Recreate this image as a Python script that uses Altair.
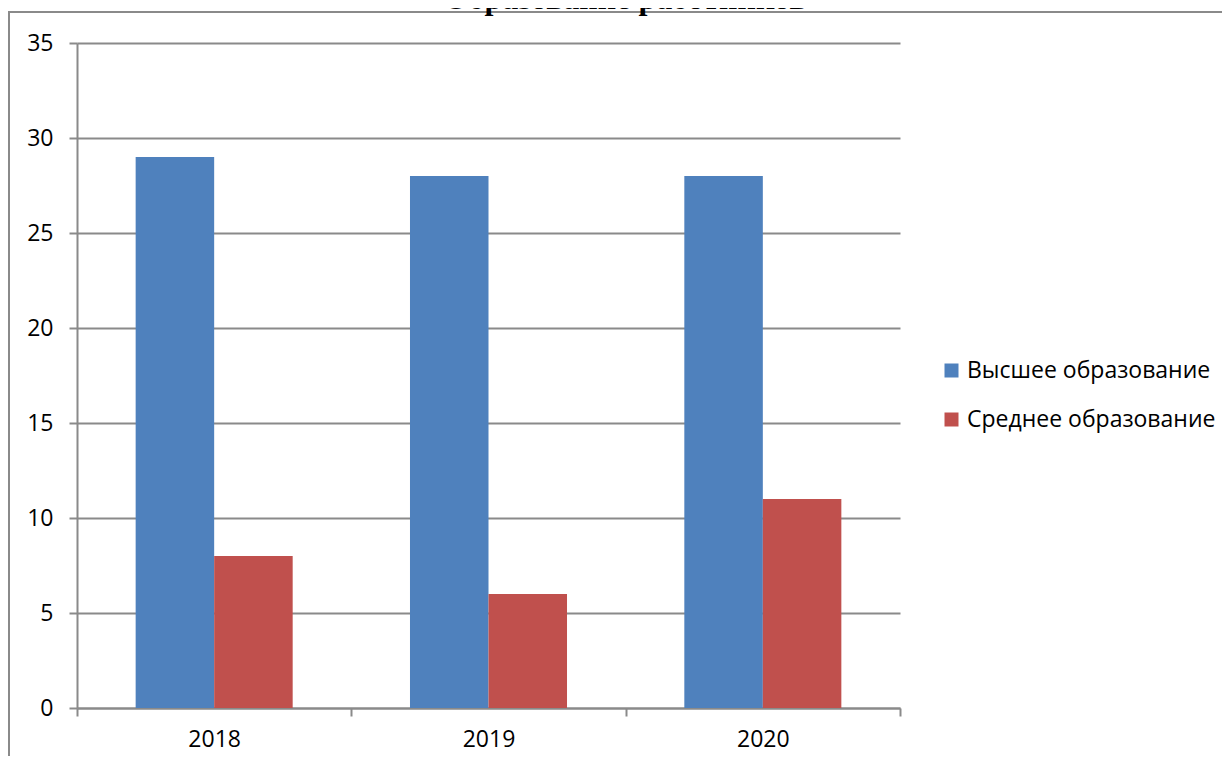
import altair as alt
import pandas as pd

years = ["2018", "2019", "2020"]
series = ["Высшее образование", "Среднее образование"]
higher = [29, 28, 28]
secondary = [8, 6, 11]
colors = ["#4F81BD", "#C0504D"]
title_text = "Образование работников"
y_ticks = [0, 5, 10, 15, 20, 25, 30, 35]

rows = []
for i, yr in enumerate(years):
    rows.append({"year": yr, "series": series[0], "value": higher[i]})
    rows.append({"year": yr, "series": series[1], "value": secondary[i]})
df = pd.DataFrame(rows)

W, H = 823, 665
GRAY = "#8a8a8a"
FONT = "Open Sans"
FS = 23

bars = alt.Chart(df).mark_bar().encode(
    x=alt.X(
        "year:N", sort=years,
        scale=alt.Scale(paddingInner=0, paddingOuter=0),
        axis=alt.Axis(title=None, labelAngle=0, tickBand="extent", grid=False,
                      domainColor=GRAY, domainWidth=2, tickColor=GRAY, tickWidth=2,
                      tickSize=8, labelFont=FONT, labelFontSize=FS, labelColor="#000",
                      labelPadding=12),
    ),
    xOffset=alt.XOffset("series:N", sort=series,
                        scale=alt.Scale(paddingInner=0, paddingOuter=0.747)),
    y=alt.Y(
        "value:Q",
        scale=alt.Scale(domain=[0, 35], nice=False),
        axis=alt.Axis(title=None, values=y_ticks, grid=True, gridColor=GRAY, gridWidth=2,
                      domainColor=GRAY, domainWidth=2, tickColor=GRAY, tickWidth=2,
                      tickSize=8, labelFont=FONT, labelFontSize=FS, labelColor="#000",
                      labelPadding=16),
    ),
    color=alt.Color(
        "series:N", sort=series,
        scale=alt.Scale(domain=series, range=colors),
        legend=alt.Legend(title=None, orient="none", legendX=863, legendY=316,
                          symbolType="square", symbolSize=196, symbolStrokeWidth=0,
                          labelFont=FONT, labelFontSize=FS, labelColor="#000",
                          labelOffset=4, rowPadding=25, labelLimit=0),
    ),
)

frame = alt.Chart(alt.Data(values=[{}])).mark_rect(
    fill="transparent", stroke=GRAY, strokeWidth=2
).encode(
    x=alt.value(-68), x2=alt.value(W + 400), y=alt.value(-31), y2=alt.value(H + 200)
)

title = alt.Chart(alt.Data(values=[{}])).mark_text(
    font="Liberation Serif", fontSize=32, fontWeight="bold", align="center",
    baseline="alphabetic", color="#000"
).encode(x=alt.value(548), y=alt.value(-34), text=alt.value(title_text))

chart = alt.layer(frame, bars, title).properties(
    width=W, height=H,
    padding={"left": 69, "top": 35, "right": 322, "bottom": 48},
    autosize="none",
).configure_view(strokeWidth=0)

chart.save("out.html", embed_options={"renderer": "svg", "actions": False})
